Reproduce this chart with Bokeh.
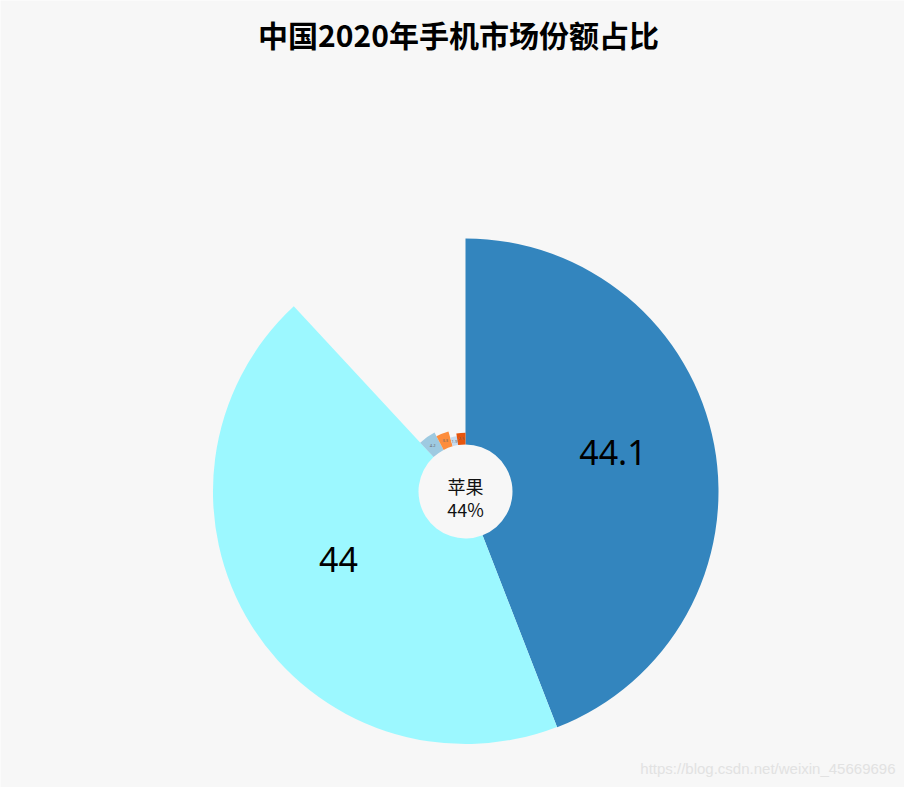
import math
from bokeh.plotting import figure
from bokeh.models import Range1d, ColumnDataSource
from bokeh.core.properties import value
from bokeh.embed import file_html
from bokeh.resources import INLINE

# ---- data ----
title_text = "中国2020年手机市场份额占比"
brands = ["华为", "苹果", "小米", "OPPO", "vivo", "其他"]
shares = [44.1, 44.0, 4.2, 3.3, 1.9, 2.5]
colors = ["#3385be", "#9cf8ff", "#9ecae1", "#fd8d3c", "#c6dbef", "#e6550d"]
center_label = ["苹果", "44%"]
watermark = "https://blog.csdn.net/weixin_45669696"

BG = "#f7f7f7"
W, H = 904, 787
# data coords == pixels, pie centre at origin (reference pixel 465, 491)
CX, CY = 465, 491
R0, R1 = 47, 253

p = figure(width=W, height=H, output_backend="svg", toolbar_location=None,
           x_range=Range1d(-CX, W - CX), y_range=Range1d(CY - H, CY),
           min_border=0, background_fill_color=BG, border_fill_color=BG,
           outline_line_color=None)
p.axis.visible = False
p.grid.visible = False

total = sum(shares)
vmax = max(shares)
starts, ends, outer, lx, ly, txt = [], [], [], [], [], []
acc = 0.0
for v in shares:
    a1 = acc / total * 360.0
    acc += v
    a2 = acc / total * 360.0
    # clockwise from 12 o'clock -> bokeh ccw from +x
    starts.append(math.radians(90 - a2))
    ends.append(math.radians(90 - a1))
    r = R0 + (R1 - R0) * v / vmax
    outer.append(r)
    mid = math.radians((a1 + a2) / 2)
    rm = (R0 + r) / 2
    lx.append(rm * math.sin(mid))
    ly.append(rm * math.cos(mid) + (11 if v > 10 else 0))
    txt.append(f"{v:g}")

src = ColumnDataSource(dict(start=starts, end=ends, outer=outer, color=colors,
                            lx=lx, ly=ly, txt=txt,
                            fs=["34px" if v > 10 else "4px" for v in shares],
                            tc=["#000000" if v > 10 else "#666666" for v in shares]))

p.annular_wedge(x=0, y=0, inner_radius=R0, outer_radius="outer",
                start_angle="start", end_angle="end", fill_color="color",
                line_color=None, source=src)

p.text(x="lx", y="ly", text="txt", source=src, text_align="center",
       text_baseline="middle", text_font=value("Noto Sans"),
       text_font_size="fs", text_color="tc")

# centre label
p.text(x=[0, 0], y=[CY - 485, CY - 508], text=center_label, text_align="center",
       text_baseline="middle", text_font=value("Noto Sans CJK SC"),
       text_font_size="18px", text_color="#111111")

# title
p.text(x=[458 - CX], y=[CY - 33], text=[title_text], text_align="center",
       text_baseline="middle", text_font=value("Noto Sans CJK SC"),
       text_font_size="30px", text_font_style="bold", text_color="#000000")

# watermark
p.text(x=[895 - CX], y=[CY - 768], text=[watermark], text_align="right",
       text_baseline="middle", text_font=value("Liberation Sans"),
       text_font_size="15px", text_color="#e2e2e2")

open("out.html", "w").write(file_html(p, INLINE))
